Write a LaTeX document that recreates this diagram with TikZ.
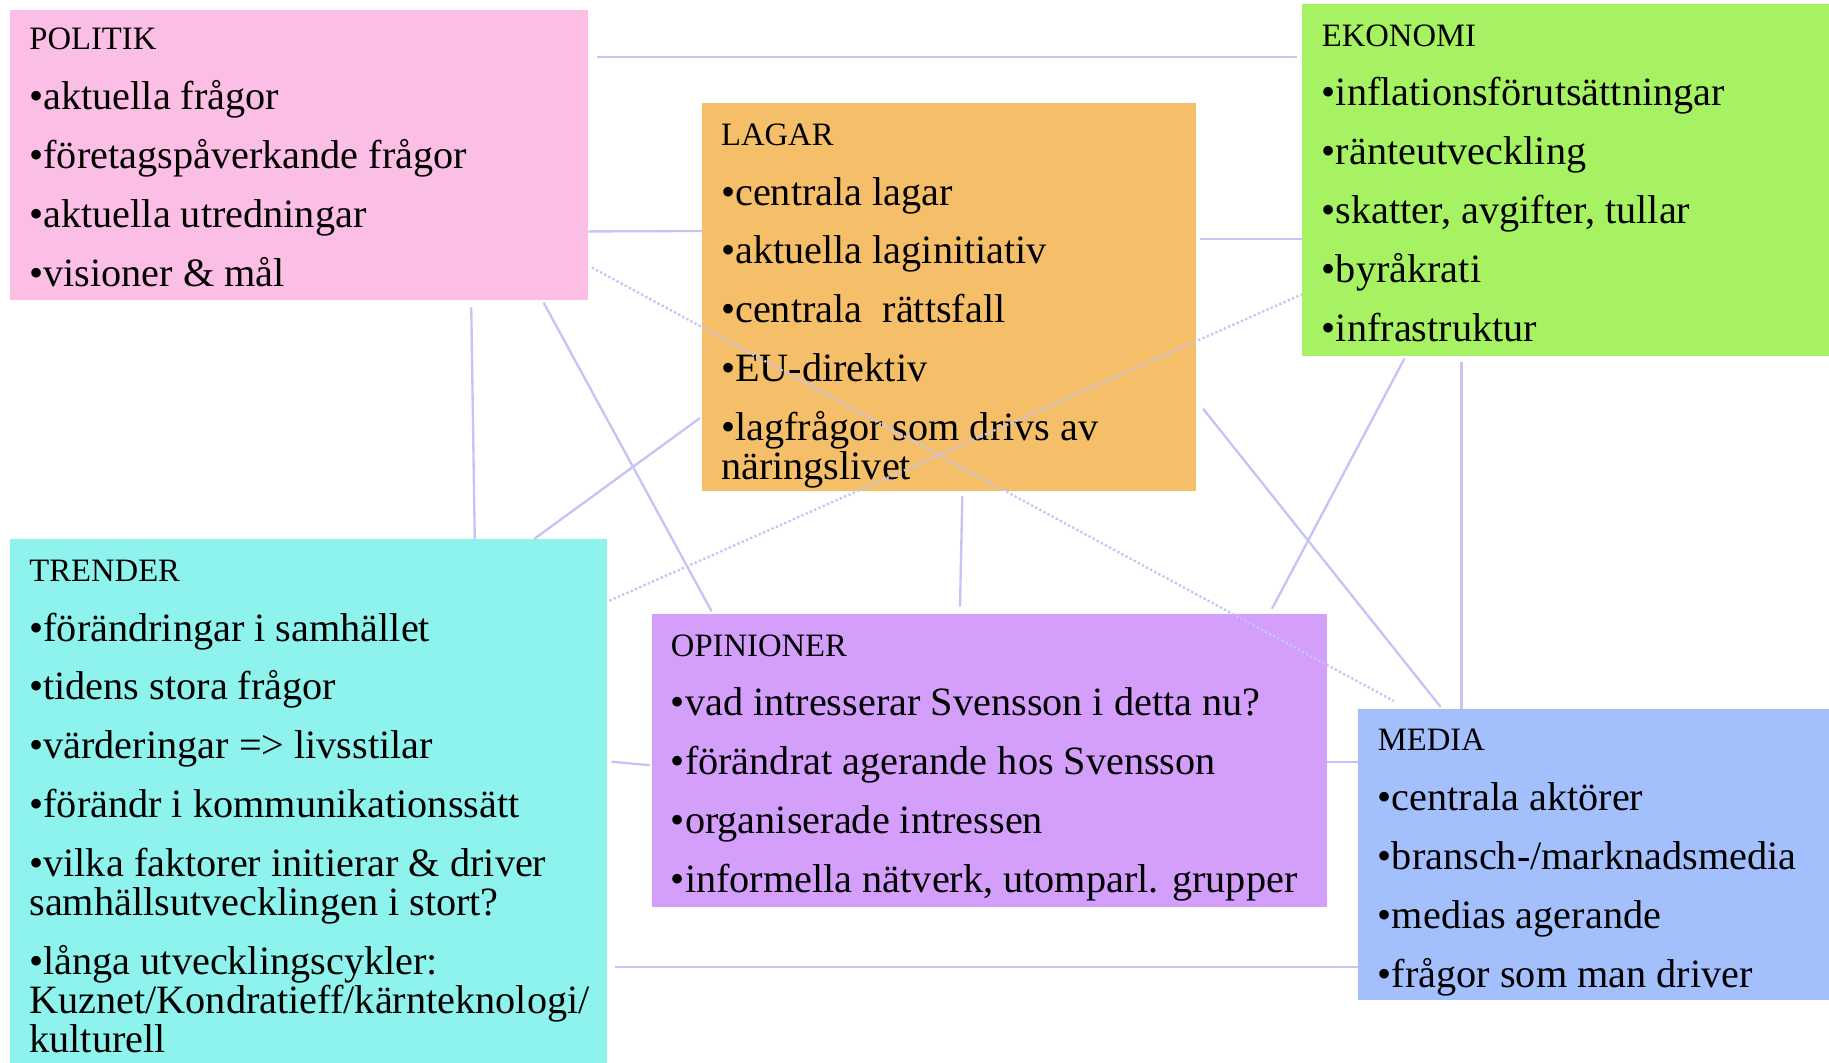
\documentclass[tikz,border=0pt]{standalone}
\usepackage{fontspec}
\setmainfont{Liberation Serif}
\usepackage{tikz}
\usetikzlibrary{calc}
\definecolor{PolitikPink}{HTML}{FBBEE4}
\definecolor{LagarOrange}{HTML}{F5BF6A}
\definecolor{EkonomiGreen}{HTML}{A6F263}
\definecolor{TrenderCyan}{HTML}{8EF3EC}
\definecolor{OpinionPurple}{HTML}{D49EFB}
\definecolor{MediaBlue}{HTML}{A3BFFC}
\definecolor{LinkLilac}{HTML}{C4C4F6}
\newcommand{\boxtitle}[1]{{\fontsize{28}{33.5}\selectfont #1}}

\begin{document}
\begin{tikzpicture}[x=1pt,y=1pt,
  area/.style={draw=none,inner sep=0pt,anchor=north west},
  areatext/.style={inner sep=0pt,anchor=north west,align=left,font=\fontsize{34.5}{33.5}\selectfont},
  link/.style={draw=LinkLilac,line width=2pt},
  dotlink/.style={draw=LinkLilac,line width=2pt,dotted}]
\useasboundingbox (0,0) rectangle (1568,-911);
% boxes
\node[area,fill=PolitikPink,minimum width=496pt,minimum height=249pt] (pol) at (8,-8) {};
\node[area,fill=LagarOrange,minimum width=423pt,minimum height=333pt] (lag) at (602,-88) {};
\node[area,fill=EkonomiGreen,minimum width=452pt,minimum height=302pt] (eko) at (1116,-3) {};
\node[area,fill=TrenderCyan,minimum width=512pt,minimum height=449pt] (tre) at (8,-462) {};
\node[area,fill=OpinionPurple,minimum width=578pt,minimum height=251pt] (opi) at (559,-526) {};
\node[area,fill=MediaBlue,minimum width=404pt,minimum height=249pt] (med) at (1164,-608) {};
% texts
\node[areatext] (poltxt) at ($(pol.north west)+(17,-16)$) {\boxtitle{POLITIK}\\[17.5pt]
  •aktuella frågor\\[17pt]
  •företagspåverkande frågor\\[17pt]
  •aktuella utredningar\\[17pt]
  •visioner \& mål};
\node[areatext] (lagtxt) at ($(lag.north west)+(16,-18)$) {\boxtitle{LAGAR}\\[17.5pt]
  •centrala lagar\\[17pt]
  •aktuella laginitiativ\\[17pt]
  •centrala\ \ rättsfall\\[17pt]
  •EU-direktiv\\[17pt]
  •lagfrågor som drivs av\\
  näringslivet};
\node[areatext] (ekotxt) at ($(eko.north west)+(17,-18)$) {\boxtitle{EKONOMI}\\[17.5pt]
  •inflationsförutsättningar\\[17pt]
  •ränteutveckling\\[17pt]
  •skatter, avgifter, tullar\\[17pt]
  •byråkrati\\[17pt]
  •infrastruktur};
\node[areatext] (tretxt) at ($(tre.north west)+(17,-18)$) {\boxtitle{TRENDER}\\[17.5pt]
  •förändringar i samhället\\[17pt]
  •tidens stora frågor\\[17pt]
  •värderingar => livsstilar\\[17pt]
  •förändr i kommunikationssätt\\[17pt]
  •vilka faktorer initierar \& driver\\
  samhällsutvecklingen i stort?\\[17pt]
  •långa utvecklingscykler:\\
  Kuznet/Kondratieff/kärnteknologi/\\
  kulturell};
\node[areatext] (opitxt) at ($(opi.north west)+(16,-18)$) {\boxtitle{OPINIONER}\\[17.5pt]
  •vad intresserar Svensson i detta nu?\\[17pt]
  •förändrat agerande hos Svensson\\[17pt]
  •organiserade intressen\\[17pt]
  •informella nätverk, utomparl. grupper};
\node[areatext] (medtxt) at ($(med.north west)+(17,-17)$) {\boxtitle{MEDIA}\\[17.5pt]
  •centrala aktörer\\[17pt]
  •bransch-/marknadsmedia\\[17pt]
  •medias agerande\\[17pt]
  •frågor som man driver};
% connectors
\draw[link] ($(pol.north east)+(7,-41)$) -- ($(eko.north west)+(-4,-46)$);
\draw[link] ($(pol.south east)+(0,59)$) -- ($(lag.north west)+(0,-110)$);
\draw[link] ($(lag.north east)+(3,-117)$) -- ($(eko.north west)+(0,-202)$);
\draw[link] ($(pol.south west)+(396,-6)$) -- ($(tre.north west)+(399,0)$);
\draw[link] ($(pol.south west)+(458,-2)$) -- ($(opi.north west)+(51,2)$);
\draw[dotlink] ($(pol.south east)+(3,28)$) -- ($(med.north west)+(31,7)$);
\draw[dotlink] ($(tre.north east)+(2,-53)$) -- ($(eko.south west)+(0,53)$);
\draw[link] ($(lag.south west)+(-2,63)$) -- ($(tre.north west)+(450,0)$);
\draw[link] ($(lag.south west)+(223,-4)$) -- ($(opi.north west)+(264,6)$);
\draw[link] ($(lag.south east)+(6,71)$) -- ($(med.north west)+(71,2)$);
\draw[link] ($(eko.south west)+(88,-2)$) -- ($(opi.north east)+(-47,4)$);
\draw[link] ($(eko.south west)+(137,-5)$) -- ($(med.north west)+(89,0)$);
\draw[link] ($(tre.north east)+(4,-191)$) -- ($(opi.north west)+(-2,-130)$);
\draw[link] ($(opi.north east)+(0,-127)$) -- ($(med.north west)+(0,-45)$);
\draw[link] ($(tre.north east)+(7,-367)$) -- ($(med.north west)+(0,-221)$);
\end{tikzpicture}
\end{document}
